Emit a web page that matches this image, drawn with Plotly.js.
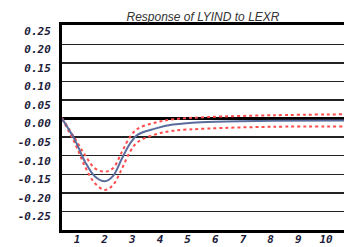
<!DOCTYPE html>
<html><head><meta charset="utf-8">
<script src="https://cdn.plot.ly/plotly-3.0.1.min.js"></script>
<style>html,body{margin:0;padding:0;background:#fff}</style>
</head><body><div id="chart" style="width:344px;height:247px"></div>
<script>
const periodTicks = [1,2,3,4,5,6,7,8,9,10];
const periodLabels = ['1','2','3','4','5','6','7','8','9','10'];
const yTicks = [0.25,0.20,0.15,0.10,0.05,0.00,-0.05,-0.10,-0.15,-0.20,-0.25];
const yLabels = ['0.25','0.20','0.15','0.10','0.05','0.00','-0.05','-0.10','-0.15','-0.20','-0.25'];
const xPos = [0.46,0.93,1.29,1.65,2.01,2.30,2.63,2.92,3.2,3.82,4.47,5.70,8.08,10.65];
const irf = [0,-0.058,-0.116,-0.156,-0.169,-0.155,-0.107,-0.067,-0.043,-0.027,-0.016,-0.009,-0.006,-0.005];
const upper = [0.002,-0.054,-0.098,-0.134,-0.143,-0.134,-0.089,-0.049,-0.027,-0.011,-0.002,0.004,0.009,0.0115];
const lower = [-0.001,-0.067,-0.129,-0.174,-0.192,-0.179,-0.134,-0.089,-0.063,-0.043,-0.033,-0.027,-0.022,-0.021];

const tickFont = {family:'DejaVu Sans Mono', size:11, color:'#1c1c3a', style:'italic', weight:'bold'};
const traces = [
  {x:xPos, y:upper, mode:'lines', line:{color:'#ff4d4d', width:2, dash:'dot', shape:'spline', smoothing:1}, hoverinfo:'skip'},
  {x:xPos, y:lower, mode:'lines', line:{color:'#ff4d4d', width:2, dash:'dot', shape:'spline', smoothing:1}, hoverinfo:'skip'},
  {x:xPos, y:irf, mode:'lines', line:{color:'#5a6c9c', width:2, shape:'spline', smoothing:1}, hoverinfo:'skip'}
];
const layout = {
  width:344, height:247,
  margin:{l:62, r:0, t:25, b:17, pad:0},
  paper_bgcolor:'#fff', plot_bgcolor:'#fff',
  showlegend:false,
  title:{text:'Response of LYIND to LEXR', x:0.5, xref:'paper', yref:'container', y:0.915, yanchor:'bottom',
    font:{family:'Liberation Sans', size:12, color:'#333', style:'italic'}},
  xaxis:{range:[0.46,10.65], tickvals:periodTicks, ticktext:periodLabels, showgrid:false, zeroline:false,
    showline:true, linecolor:'#000', linewidth:3, mirror:true, ticks:'', tickfont:tickFont, ticklabelstandoff:-3},
  yaxis:{range:[-0.30,0.252], tickvals:yTicks, ticktext:yLabels, showgrid:true, gridcolor:'#222', gridwidth:1.5,
    zeroline:true, zerolinecolor:'#000', zerolinewidth:2.5,
    showline:true, linecolor:'#000', linewidth:3, ticks:'', tickfont:tickFont, ticklabelstandoff:6, ticklabelshift:5}
};
Plotly.newPlot('chart', traces, layout, {staticPlot:true, displayModeBar:false});
</script></body></html>
